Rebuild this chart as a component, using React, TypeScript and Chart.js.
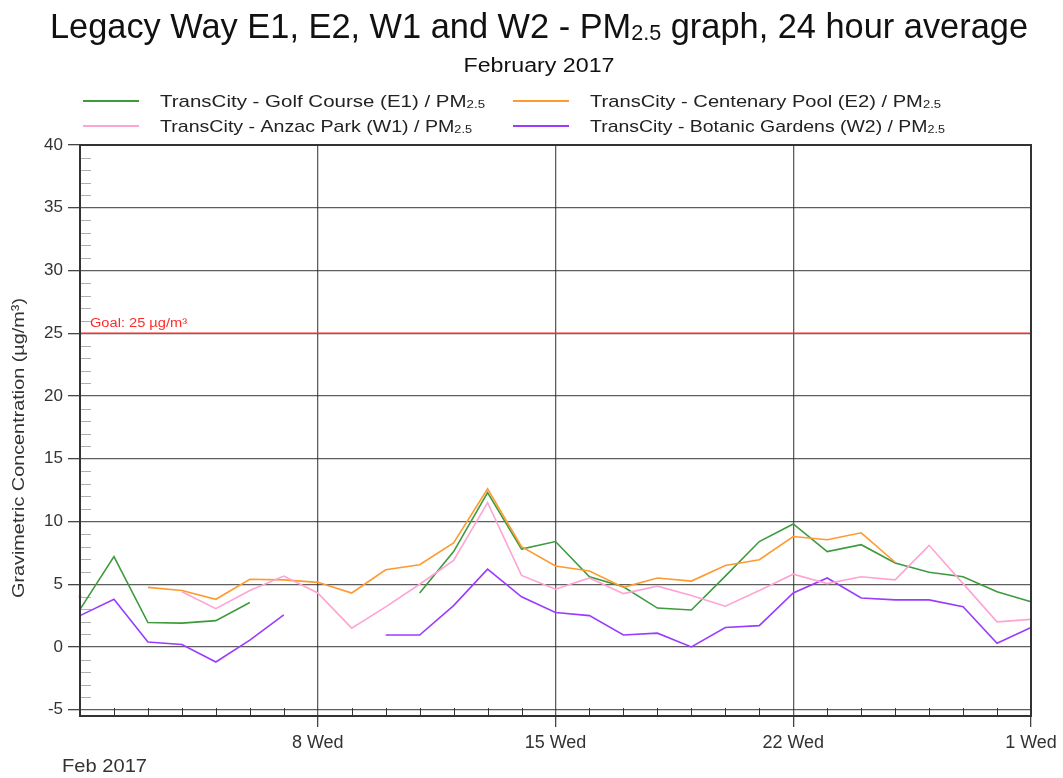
import React, { useEffect, useRef } from 'react';
import { Chart, registerables } from 'chart.js';

Chart.register(...registerables);

// ---- data ----
const dayLabels = [
  'Feb 1', 'Feb 2', 'Feb 3', 'Feb 4', 'Feb 5', 'Feb 6', 'Feb 7', 'Feb 8', 'Feb 9', 'Feb 10',
  'Feb 11', 'Feb 12', 'Feb 13', 'Feb 14', 'Feb 15', 'Feb 16', 'Feb 17', 'Feb 18', 'Feb 19', 'Feb 20',
  'Feb 21', 'Feb 22', 'Feb 23', 'Feb 24', 'Feb 25', 'Feb 26', 'Feb 27', 'Feb 28', 'Mar 1',
];
const majorTickIdx = [7, 14, 21, 28];
const majorTickText = ['8 Wed', '15 Wed', '22 Wed', '1 Wed'];
const yTickValues = [-5, 0, 5, 10, 15, 20, 25, 30, 35, 40];

const golfCourseE1 = [
  3.0, 7.2, 1.95, 1.9, 2.1, 3.55, null, null, null, null,
  4.3, 7.6, 12.3, 7.8, 8.4, 5.6, 4.8, 3.1, 2.95, 5.65,
  8.4, 9.8, 7.6, 8.15, 6.7, 5.95, 5.6, 4.4, 3.6,
];
const centenaryPoolE2 = [
  null, null, 4.75, 4.5, 3.8, 5.4, 5.35, 5.15, 4.3, 6.15,
  6.55, 8.3, 12.6, 8.0, 6.45, 6.05, 4.75, 5.5, 5.25, 6.5,
  6.95, 8.8, 8.55, 9.1, 6.75, null, null, null, null,
];
const anzacParkW1 = [
  4.0, null, null, 4.4, 3.05, 4.5, 5.65, 4.3, 1.5, 3.2,
  5.0, 6.9, 11.5, 5.7, 4.6, 5.5, 4.25, 4.85, 4.1, 3.25,
  4.5, 5.8, 5.05, 5.6, 5.35, 8.1, 5.05, 2.0, 2.2,
];
const botanicGardensW2 = [
  2.5, 3.8, 0.4, 0.2, -1.2, 0.55, 2.55, null, null, 0.95,
  0.95, 3.3, 6.2, 4.0, 2.75, 2.5, 0.95, 1.1, 0.0, 1.55,
  1.7, 4.3, 5.5, 3.9, 3.75, 3.75, 3.2, 0.3, 1.55,
];
const goalValue = 25;
const goalLabel = 'Goal: 25 µg/m³';

const seriesNames = [
  'TransCity - Golf Course (E1) / PM',
  'TransCity - Centenary Pool (E2) / PM',
  'TransCity - Anzac Park (W1) / PM',
  'TransCity - Botanic Gardens (W2) / PM',
];
const seriesColors = ['#3d9a3d', '#ff9a30', '#ffa3d3', '#9a3cff'];

const FONT = "'Liberation Sans', Arial, sans-serif";

type Part = { t: string; sub?: boolean };

function drawRich(
  ctx: CanvasRenderingContext2D,
  parts: Part[],
  x: number,
  y: number,
  size: number,
  targetW: number,
  align: 'left' | 'center',
  color: string
) {
  let natural = 0;
  for (const p of parts) {
    ctx.font = `${p.sub ? Math.round(size * 0.62) : size}px ${FONT}`;
    natural += ctx.measureText(p.t).width;
  }
  const s = targetW / natural;
  const startX = align === 'center' ? x - targetW / 2 : x;
  ctx.save();
  ctx.translate(startX, y);
  ctx.scale(s, 1);
  ctx.fillStyle = color;
  ctx.textAlign = 'left';
  ctx.textBaseline = 'alphabetic';
  let cx = 0;
  for (const p of parts) {
    ctx.font = `${p.sub ? Math.round(size * 0.62) : size}px ${FONT}`;
    ctx.fillText(p.t, cx, p.sub ? size * 0.06 : 0);
    cx += ctx.measureText(p.t).width;
  }
  ctx.restore();
}

const decorPlugin = {
  id: 'decor',
  beforeDatasetsDraw(chart: any) {
    const { ctx, chartArea } = chart;
    const x = chart.scales.x;
    const y = chart.scales.y;
    ctx.save();
    // minor y ticks inside left axis
    ctx.strokeStyle = '#b0b0b0';
    ctx.lineWidth = 1;
    for (let v = -5; v <= 40; v++) {
      if (v % 5 === 0) continue;
      const py = Math.round(y.getPixelForValue(v)) + 0.5;
      ctx.beginPath();
      ctx.moveTo(chartArea.left, py);
      ctx.lineTo(chartArea.left + 11, py);
      ctx.stroke();
    }
    // daily ticks on bottom axis pointing up
    ctx.strokeStyle = '#333';
    for (let i = 1; i < dayLabels.length - 1; i++) {
      if (majorTickIdx.includes(i)) continue;
      const px = Math.round(x.getPixelForValue(i)) + 0.5;
      ctx.beginPath();
      ctx.moveTo(px, chartArea.bottom);
      ctx.lineTo(px, chartArea.bottom - 8);
      ctx.stroke();
    }
    // goal line
    const gy = y.getPixelForValue(goalValue);
    ctx.strokeStyle = '#ff2a2a';
    ctx.lineWidth = 1.6;
    ctx.beginPath();
    ctx.moveTo(chartArea.left, gy);
    ctx.lineTo(chartArea.right, gy);
    ctx.stroke();
    ctx.restore();
    drawRich(ctx, [{ t: goalLabel }], chartArea.left + 10, gy - 6, 12, 97, 'left', '#ff2a2a');
  },
  afterDraw(chart: any) {
    const { ctx, chartArea } = chart;
    ctx.save();
    // frame
    ctx.strokeStyle = '#333';
    ctx.lineWidth = 2;
    ctx.strokeRect(chartArea.left, chartArea.top, chartArea.right - chartArea.left, chartArea.bottom - chartArea.top);
    ctx.restore();

    // title + subtitle
    drawRich(
      ctx,
      [{ t: 'Legacy Way E1, E2, W1 and W2 - PM' }, { t: '2.5', sub: true }, { t: ' graph, 24 hour average' }],
      539, 38, 35, 978, 'center', '#111'
    );
    drawRich(ctx, [{ t: 'February 2017' }], 539, 72, 20, 151, 'center', '#111');

    // legend (2 x 2 grid)
    const legendPos = [
      { lx: 83, tx: 160, y: 101, w: 325 },
      { lx: 513, tx: 590, y: 101, w: 351 },
      { lx: 83, tx: 160, y: 126, w: 312 },
      { lx: 513, tx: 590, y: 126, w: 355 },
    ];
    legendPos.forEach((p, i) => {
      ctx.save();
      ctx.strokeStyle = seriesColors[i];
      ctx.lineWidth = 2;
      ctx.beginPath();
      ctx.moveTo(p.lx, p.y);
      ctx.lineTo(p.lx + 56, p.y);
      ctx.stroke();
      ctx.restore();
      drawRich(ctx, [{ t: seriesNames[i] }, { t: '2.5', sub: true }], p.tx, p.y + 6, 17, p.w, 'left', '#222');
    });

    // y axis title
    ctx.save();
    ctx.translate(24, 448);
    ctx.rotate(-Math.PI / 2);
    drawRich(ctx, [{ t: 'Gravimetric Concentration (µg/m³)' }], 0, 0, 17, 300, 'center', '#333');
    ctx.restore();

    // bottom-left date
    drawRich(ctx, [{ t: 'Feb 2017' }], 62, 772, 19, 85, 'left', '#333');
  },
};

export default function App() {
  const ref = useRef<HTMLCanvasElement | null>(null);
  useEffect(() => {
    if (!ref.current) return;
    const mk = (label: string, data: (number | null)[], color: string, radius: number[] | number = 0) => ({
      label,
      data,
      borderColor: color,
      backgroundColor: color,
      borderWidth: 1.6,
      pointRadius: radius,
      pointHoverRadius: 0,
      pointBorderWidth: 0,
      tension: 0,
      spanGaps: false,
      fill: false,
    });
    const pinkRadius = anzacParkW1.map((v, i) =>
      v !== null && (i === 0 || anzacParkW1[i - 1] === null) && (i === anzacParkW1.length - 1 || anzacParkW1[i + 1] === null) ? 1.8 : 0
    );
    const chart = new Chart(ref.current, {
      type: 'line',
      data: {
        labels: dayLabels,
        datasets: [
          mk(seriesNames[2], anzacParkW1, seriesColors[2], pinkRadius),
          mk(seriesNames[3], botanicGardensW2, seriesColors[3]),
          mk(seriesNames[1], centenaryPoolE2, seriesColors[1]),
          mk(seriesNames[0], golfCourseE1, seriesColors[0]),
        ],
      },
      options: {
        responsive: false,
        animation: false,
        events: [],
        layout: { padding: { top: 145, right: 32, left: 0, bottom: 0 } },
        plugins: {
          legend: { display: false },
          title: { display: false },
          tooltip: { enabled: false },
        },
        scales: {
          x: {
            type: 'category',
            offset: false,
            afterFit: (s: any) => { s.height = 62; },
            grid: {
              color: (c: any) => (majorTickIdx.includes(c.index) ? 'rgba(40,40,40,0.75)' : 'rgba(0,0,0,0)'),
              tickColor: (c: any) => (majorTickIdx.includes(c.index) ? '#444' : 'rgba(0,0,0,0)'),
              lineWidth: 1.3,
              tickLength: 11,
              drawTicks: true,
            },
            border: { display: true, color: '#333', width: 2 },
            ticks: {
              autoSkip: false,
              maxRotation: 0,
              minRotation: 0,
              padding: 5,
              color: '#333',
              font: { family: FONT, size: 18 },
              callback: (_v: any, i: number) => {
                const k = majorTickIdx.indexOf(i);
                return k >= 0 ? majorTickText[k] : '';
              },
            },
          },
          y: {
            type: 'linear',
            min: -5.5,
            max: 40,
            afterFit: (s: any) => { s.width = 80; },
            afterBuildTicks: (s: any) => { s.ticks = yTickValues.map((v) => ({ value: v })); },
            grid: {
              color: 'rgba(40,40,40,0.75)',
              tickColor: '#444',
              lineWidth: 1.3,
              tickLength: 12,
            },
            border: { display: true, color: '#333', width: 2 },
            ticks: {
              padding: 5,
              color: '#333',
              font: { family: FONT, size: 17 },
            },
          },
        },
      },
      plugins: [decorPlugin],
    } as any);
    return () => chart.destroy();
  }, []);
  return (
    <div style={{ position: 'fixed', left: 0, top: 0, width: 1063, height: 778, background: '#fff' }}>
      <canvas ref={ref} width={1063} height={778} style={{ display: 'block' }} />
    </div>
  );
}
